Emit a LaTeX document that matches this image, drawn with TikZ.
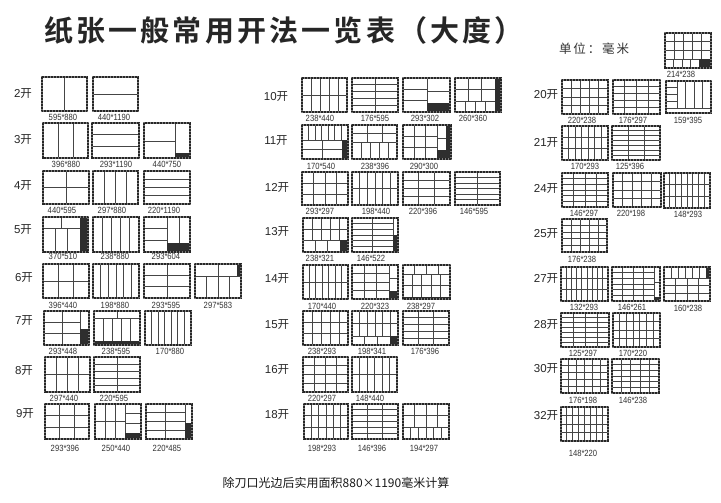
\documentclass[tikz,border=0pt]{standalone}
\usepackage{fontspec}
\setmainfont{Liberation Sans}
\newfontfamily\sizefont[FakeStretch=0.85]{Liberation Sans}
\newfontfamily\cjk{Noto Sans CJK SC}
\newfontfamily\cjkb{Noto Sans CJK SC Bold}[LetterSpace=11]
\newfontfamily\cjkunit{Noto Sans CJK SC}[LetterSpace=15]
\newcounter{labc}
\definecolor{ink}{gray}{0.27}
\tikzset{
  cutline/.style={draw=ink,line width=0.85pt},
  outlinebase/.style={draw=black!50,line width=1.1pt},
  outline/.style={draw=black!85,line width=1.1pt,dash pattern=on 0.8pt off 0.7pt},
  blackpart/.style={fill=black!82,draw=none},
  sizelabel/.style={font=\fontsize{9}{10}\selectfont\sizefont,text=black!80,inner sep=0pt,anchor=center},
  kailabel/.style={font=\fontsize{11.5}{12}\selectfont,text=black!85,inner sep=0pt,anchor=center},
}
% grid: x0 y0 x1 y1 cols rows
\newcommand\gridcut[6]{%
  \pgfmathtruncatemacro\ncl{#5-1}%
  \pgfmathtruncatemacro\nrw{#6-1}%
  \ifnum\ncl>0 \foreach \i in {1,...,\ncl}{\draw[cutline] ({#1+(#3-#1)*\i/#5},#2) -- ({#1+(#3-#1)*\i/#5},#4);}\fi
  \ifnum\nrw>0 \foreach \i in {1,...,\nrw}{\draw[cutline] (#1,{#2+(#4-#2)*\i/#6}) -- (#3,{#2+(#4-#2)*\i/#6});}\fi
}
\newcommand\blk[4]{\fill[blackpart] (#1,#2) rectangle (#3,#4);}
% outer: x0 y0 x1 y1 label lx ly
\newcommand\sheet[7]{%
  \draw[outlinebase] (#1,#2) rectangle (#3,#4);
  \draw[outline] (#1,#2) rectangle (#3,#4);
  \stepcounter{labc}%
  \node[sizelabel] (size\thelabc) at (#6,#7) {#5};
}
\newcommand\kai[3]{\stepcounter{labc}\node[kailabel] (kai\thelabc) at (#2,#3) {#1{\cjk 开}};}
\begin{document}
\begin{tikzpicture}[x=1pt,y=-1pt]
\useasboundingbox (0,0) rectangle (721,503);
\fill[white] (0,0) rectangle (721,503);
\node[inner sep=0pt,anchor=center,font=\fontsize{29}{31}\selectfont\cjkb,text=black!85] (title) at (284,30) {纸张一般常用开法一览表（大度）};
\node[inner sep=0pt,font=\fontsize{12.5}{13}\selectfont\cjkunit,text=black!80] (unit) at (594,49) {单位：毫米};
\node[inner sep=0pt,font=\fontsize{12}{13}\selectfont\cjk,text=black!90] (foot) at (336,483) {除刀口光边后实用面积880×1190毫米计算};
% ---- left column
\kai{2}{23}{94}
\gridcut{42}{77}{87}{111}{2}{1}\sheet{42}{77}{87}{111}{595*880}{63}{117}
\gridcut{93}{77}{138}{111}{1}{2}\sheet{93}{77}{138}{111}{440*1190}{114}{117}
\kai{3}{23}{140}
\gridcut{43}{123}{88}{158}{3}{1}\sheet{43}{123}{88}{158}{396*880}{66}{164}
\gridcut{92}{123}{139}{158}{1}{3}\sheet{92}{123}{139}{158}{293*1190}{116}{164}
\draw[cutline] (175,123)--(175,158) (144,141)--(175,141);\blk{175}{153}{190}{158}\sheet{144}{123}{190}{158}{440*750}{167}{164}
\kai{4}{23}{186}
\gridcut{43}{171}{89}{204}{2}{2}\sheet{43}{171}{89}{204}{440*595}{62}{210}
\gridcut{93}{171}{138}{204}{4}{1}\sheet{93}{171}{138}{204}{297*880}{112}{210}
\gridcut{144}{171}{190}{204}{1}{4}\sheet{144}{171}{190}{204}{220*1190}{164}{210}
\kai{5}{23}{230}
\gridcut{43}{217}{80}{228}{2}{1}\gridcut{43}{228}{80}{252}{3}{1}\draw[cutline] (43,228)--(80,228);\blk{80}{217}{88}{252}\sheet{43}{217}{88}{252}{370*510}{63}{256}
\gridcut{93}{217}{139}{252}{5}{1}\sheet{93}{217}{139}{252}{238*880}{115}{256}
\gridcut{144}{217}{167}{252}{1}{3}\draw[cutline] (167,217)--(167,252) (179,217)--(179,243);\blk{167}{243}{190}{252}\sheet{144}{217}{190}{252}{293*604}{166}{256}
\kai{6}{24}{278}
\gridcut{43}{264}{89}{298}{3}{2}\sheet{43}{264}{89}{298}{396*440}{63}{305}
\gridcut{93}{264}{139}{298}{6}{1}\sheet{93}{264}{139}{298}{198*880}{115}{305}
\gridcut{144}{264}{190}{298}{2}{3}\sheet{144}{264}{190}{298}{293*595}{166}{305}
\draw[cutline] (218,264)--(218,276) (195,276)--(241,276);\gridcut{195}{276}{241}{298}{4}{1}\blk{237}{264}{241}{276}\sheet{195}{264}{241}{298}{297*583}{218}{305}
\kai{7}{24}{321}
\gridcut{44}{311}{80}{345}{2}{3}\draw[cutline] (80,311)--(80,345);\blk{80}{329}{89}{345}\sheet{44}{311}{89}{345}{293*448}{63}{351}
\draw[cutline] (94,318)--(140,318) (117,311)--(117,318);\gridcut{94}{318}{140}{345}{5}{1}\blk{94}{341}{140}{345}\sheet{94}{311}{140}{345}{238*595}{116}{351}
\gridcut{145}{311}{191}{345}{7}{1}\sheet{145}{311}{191}{345}{170*880}{170}{351}
\kai{8}{24}{371}
\gridcut{45}{357}{90}{392}{4}{2}\sheet{45}{357}{90}{392}{297*440}{64}{398}
\gridcut{94}{357}{140}{392}{2}{5}\sheet{94}{357}{140}{392}{220*595}{114}{398}
\kai{9}{25}{414}
\gridcut{45}{404}{89}{439}{3}{3}\sheet{45}{404}{89}{439}{293*396}{65}{448}
\gridcut{95}{404}{125}{439}{3}{2}\draw[cutline] (125,404)--(125,439) (125,413)--(141,413) (125,423)--(141,423);\blk{125}{433}{141}{439}\sheet{95}{404}{141}{439}{250*440}{116}{448}
\gridcut{146}{404}{185}{439}{2}{4}\draw[cutline] (185,404)--(185,439);\blk{185}{423}{192}{439}\sheet{146}{404}{192}{439}{220*485}{167}{448}
% ---- middle column
\kai{10}{276}{97}
\gridcut{302}{78}{347}{112}{5}{2}\sheet{302}{78}{347}{112}{238*440}{320}{118}
\gridcut{352}{78}{398}{112}{2}{5}\sheet{352}{78}{398}{112}{176*595}{375}{118}
\gridcut{403}{78}{427}{112}{1}{3}\draw[cutline] (427,78)--(427,112) (427,91)--(450,91);\blk{427}{103}{450}{112}\sheet{403}{78}{450}{112}{293*302}{425}{118}
\gridcut{455}{78}{495}{101}{3}{2}\draw[cutline] (455,101)--(495,101);\gridcut{455}{101}{495}{112}{4}{1}\blk{495}{78}{501}{112}\sheet{455}{78}{501}{112}{260*360}{473}{118}
\kai{11}{276}{141}
\gridcut{302}{125}{348}{140}{7}{1}\draw[cutline] (302,140)--(348,140);\gridcut{302}{140}{342}{159}{2}{2}\blk{342}{140}{348}{159}\sheet{302}{125}{348}{159}{170*540}{321}{166}
\gridcut{352}{125}{397}{142}{3}{2}\draw[cutline] (352,142)--(397,142);\gridcut{352}{142}{397}{159}{5}{1}\sheet{352}{125}{397}{159}{238*396}{375}{166}
\gridcut{403}{125}{437}{159}{3}{3}\draw[cutline] (437,125)--(437,159) (437,138)--(446,138);\blk{446}{125}{451}{159}\blk{437}{150}{451}{159}\sheet{403}{125}{451}{159}{290*300}{424}{166}
\kai{12}{277}{188}
\gridcut{302}{172}{348}{205}{4}{3}\sheet{302}{172}{348}{205}{293*297}{320}{211}
\gridcut{352}{172}{398}{205}{6}{2}\sheet{352}{172}{398}{205}{198*440}{376}{211}
\gridcut{403}{172}{450}{205}{3}{4}\sheet{403}{172}{450}{205}{220*396}{423}{211}
\gridcut{455}{172}{500}{205}{2}{6}\sheet{455}{172}{500}{205}{146*595}{474}{211}
\kai{13}{277}{232}
\gridcut{303}{218}{348}{240}{5}{2}\draw[cutline] (303,240)--(348,240);\gridcut{303}{240}{340}{252}{3}{1}\blk{340}{240}{348}{252}\sheet{303}{218}{348}{252}{238*321}{320}{258}
\gridcut{352}{218}{393}{252}{2}{6}\draw[cutline] (393,218)--(393,252);\blk{393}{235}{398}{252}\sheet{352}{218}{398}{252}{146*522}{371}{258}
\kai{14}{277}{279}
\gridcut{303}{265}{348}{299}{7}{2}\sheet{303}{265}{348}{299}{170*440}{322}{306}
\gridcut{352}{265}{389}{299}{3}{4}\draw[cutline] (389,265)--(389,299) (389,278)--(398,278) (389,291)--(398,291);\blk{389}{291}{398}{299}\sheet{352}{265}{398}{299}{220*323}{375}{306}
\gridcut{403}{265}{450}{274}{4}{1}\draw[cutline] (403,274)--(450,274);\gridcut{403}{274}{450}{297}{5}{2}\blk{403}{297}{450}{299}\sheet{403}{265}{450}{299}{238*297}{421}{306}
\kai{15}{277}{325}
\gridcut{303}{311}{348}{345}{5}{3}\sheet{303}{311}{348}{345}{238*293}{322}{351}
\gridcut{352}{311}{398}{336}{6}{2}\draw[cutline] (352,336)--(398,336);\gridcut{352}{336}{390}{345}{3}{1}\blk{390}{336}{398}{345}\sheet{352}{311}{398}{345}{198*341}{372}{351}
\gridcut{403}{311}{449}{345}{3}{5}\sheet{403}{311}{449}{345}{176*396}{425}{351}
\kai{16}{277}{370}
\gridcut{303}{357}{348}{392}{4}{4}\sheet{303}{357}{348}{392}{220*297}{322}{398}
\gridcut{352}{357}{397}{392}{6}{2}\sheet{352}{357}{397}{392}{148*440}{370}{398}
\kai{18}{277}{415}
\gridcut{304}{404}{348}{439}{6}{3}\sheet{304}{404}{348}{439}{198*293}{322}{448}
\gridcut{352}{404}{398}{439}{3}{6}\sheet{352}{404}{398}{439}{146*396}{372}{448}
\gridcut{403}{404}{449}{427}{4}{2}\draw[cutline] (403,427)--(449,427);\gridcut{403}{427}{449}{439}{6}{1}\sheet{403}{404}{449}{439}{194*297}{424}{448}
% ---- right column
\gridcut{665}{33}{711}{59}{5}{3}\draw[cutline] (665,59)--(711,59);\gridcut{665}{59}{699}{68}{4}{1}\blk{699}{59}{711}{68}\sheet{665}{33}{711}{68}{214*238}{681}{74}
\kai{20}{546}{95}
\gridcut{562}{80}{608}{114}{5}{4}\sheet{562}{80}{608}{114}{220*238}{582}{120}
\gridcut{613}{80}{660}{114}{4}{5}\sheet{613}{80}{660}{114}{176*297}{633}{120}
\draw[cutline] (666,108)--(711,108);\gridcut{666}{81}{677}{108}{1}{4}\gridcut{677}{81}{711}{108}{4}{1}\draw[cutline] (677,81)--(677,108);\sheet{666}{81}{711}{113}{159*395}{688}{120}
\kai{21}{546}{143}
\gridcut{562}{126}{608}{160}{7}{3}\sheet{562}{126}{608}{160}{170*293}{585}{166}
\gridcut{612}{126}{660}{160}{3}{7}\sheet{612}{126}{660}{160}{125*396}{630}{166}
\kai{24}{546}{189}
\gridcut{562}{173}{608}{207}{4}{6}\sheet{562}{173}{608}{207}{146*297}{584}{213}
\gridcut{613}{173}{661}{207}{5}{4}\sheet{613}{173}{661}{207}{220*198}{631}{213}
\gridcut{664}{173}{710}{208}{8}{3}\sheet{664}{173}{710}{208}{148*293}{688}{214}
\kai{25}{546}{234}
\gridcut{562}{219}{607}{252}{5}{5}\sheet{562}{219}{607}{252}{176*238}{582}{259}
\kai{27}{546}{279}
\gridcut{561}{267}{608}{301}{9}{3}\sheet{561}{267}{608}{301}{132*293}{584}{307}
\gridcut{612}{267}{654}{301}{4}{6}\draw[cutline] (654,267)--(654,301) (654,282)--(660,282);\blk{654}{297}{660}{301}\sheet{612}{267}{660}{301}{146*261}{632}{307}
\gridcut{664}{267}{706}{278}{6}{1}\draw[cutline] (664,278)--(710,278);\gridcut{664}{278}{710}{301}{4}{3}\blk{706}{267}{710}{278}\sheet{664}{267}{710}{301}{160*238}{688}{308}
\kai{28}{546}{325}
\gridcut{561}{313}{609}{347}{4}{7}\sheet{561}{313}{609}{347}{125*297}{583}{353}
\gridcut{613}{313}{660}{347}{7}{4}\sheet{613}{313}{660}{347}{170*220}{633}{353}
\kai{30}{546}{369}
\gridcut{561}{359}{608}{393}{6}{5}\sheet{561}{359}{608}{393}{176*198}{583}{400}
\gridcut{612}{359}{659}{393}{5}{6}\sheet{612}{359}{659}{393}{146*238}{633}{400}
\kai{32}{546}{416}
\gridcut{561}{407}{608}{441}{8}{4}\sheet{561}{407}{608}{441}{148*220}{583}{453}
\end{tikzpicture}
\end{document}
